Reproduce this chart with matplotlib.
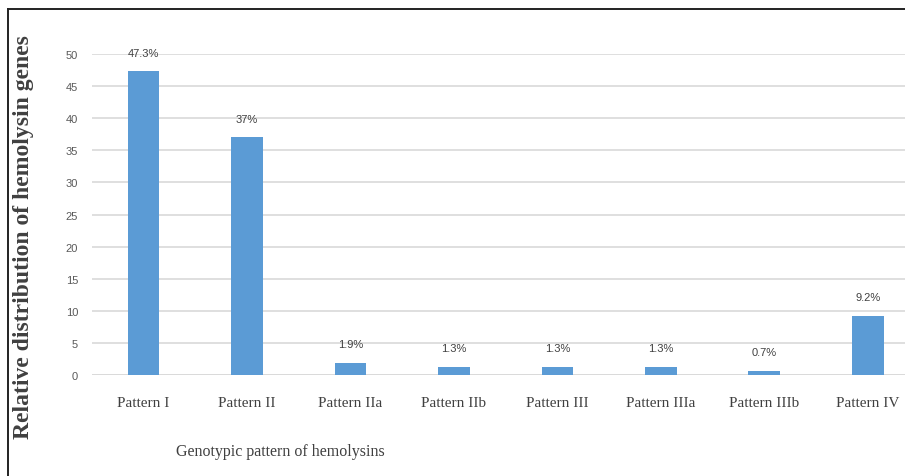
import matplotlib
matplotlib.use("Agg")
import matplotlib.pyplot as plt
from matplotlib.lines import Line2D

patterns = ["Pattern I", "Pattern II", "Pattern IIa", "Pattern IIb", "Pattern III",
            "Pattern IIIa", "Pattern IIIb", "Pattern IV"]
values = [47.3, 37, 1.9, 1.3, 1.3, 1.3, 0.7, 9.2]
labels = ["47.3%", "37%", "1.9%", "1.3%", "1.3%", "1.3%", "0.7%", "9.2%"]
yticks = [0, 5, 10, 15, 20, 25, 30, 35, 40, 45, 50]

serif = ["Liberation Serif", "DejaVu Serif"]
sans = ["Liberation Sans Narrow", "Liberation Sans", "DejaVu Sans"]

fig = plt.figure(figsize=(9.05, 4.77), dpi=100)
ax = fig.add_axes([0.1017, 0.2117, 0.8983, 0.673])

x = list(range(len(patterns)))
ax.bar(x, values, width=0.305, color="#5b9bd5", zorder=3)

for xi, v, lab in zip(x, values, labels):
    ax.annotate(lab, (xi, v), xytext=(0, 13.5), textcoords="offset points",
                ha="center", va="center", fontsize=8, color="#404040",
                family=sans, clip_on=False)

ax.set_xlim(-0.496, 7.36)
ax.set_ylim(0, 50)
ax.set_yticks(yticks)
ax.yaxis.grid(True, color="#d9d9d9", linewidth=1.2, zorder=0)
ax.set_axisbelow(True)
for s in ax.spines.values():
    s.set_visible(False)
ax.axhline(0, color="#d9d9d9", linewidth=1.2, zorder=1)

ax.set_xticks(x)
ax.set_xticklabels(patterns, family=serif, fontsize=11, color="#404040")
ax.tick_params(axis="x", length=0, pad=15)
ax.tick_params(axis="y", length=0, pad=10, labelsize=8, labelcolor="#595959")
for t in ax.get_yticklabels():
    t.set_family(sans)

fig.text(0.026, 0.503, "Relative distribution of hemolysin genes", rotation=90,
         ha="center", va="center", fontsize=17, fontweight="bold",
         family=serif, color="#404040")
fig.text(0.31, 0.052, "Genotypic pattern of hemolysins", ha="center", va="center",
         fontsize=11.5, family=serif, color="#404040")

# outer frame (left and top only)
fig.add_artist(Line2D([0.009, 0.009], [0.0, 0.979], color="#222222", linewidth=1.4,
                      transform=fig.transFigure))
fig.add_artist(Line2D([0.009, 1.0], [0.979, 0.979], color="#222222", linewidth=1.4,
                      transform=fig.transFigure))

fig.savefig("out.png", dpi=100)
